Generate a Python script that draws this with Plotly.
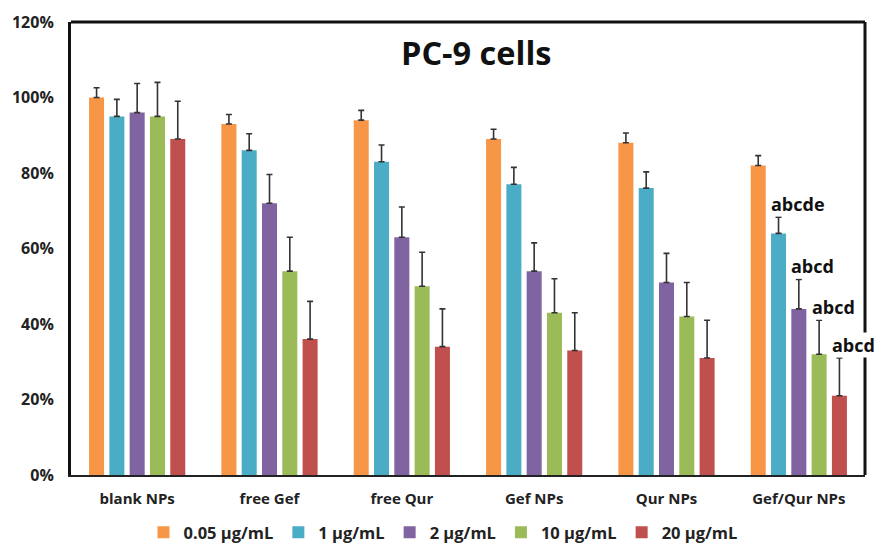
import plotly.graph_objects as go

categories = ["blank NPs", "free Gef", "free Qur", "Gef NPs", "Qur NPs", "Gef/Qur NPs"]
series_names = ["0.05 µg/mL", "1 µg/mL", "2 µg/mL", "10 µg/mL", "20 µg/mL"]
colors = ["#F79646", "#4BACC6", "#8064A2", "#9BBB59", "#C0504D"]

v_005 = [100, 93, 94, 89, 88, 82]
v_1 = [95, 86, 83, 77, 76, 64]
v_2 = [96, 72, 63, 54, 51, 44]
v_10 = [95, 54, 50, 43, 42, 32]
v_20 = [89, 36, 34, 33, 31, 21]

e_005 = [2.6, 2.5, 2.6, 2.6, 2.6, 2.6]
e_1 = [4.5, 4.4, 4.4, 4.5, 4.3, 4.3]
e_2 = [7.7, 7.6, 8.0, 7.5, 7.7, 7.8]
e_10 = [9.0, 9.0, 9.0, 9.0, 9.0, 9.0]
e_20 = [10.0, 10.0, 10.0, 10.0, 10.0, 10.0]

values = [v_005, v_1, v_2, v_10, v_20]
errors = [e_005, e_1, e_2, e_10, e_20]

sig_labels = ["", "abcde", "abcd", "abcd", "abcd"]
sig_category = "Gef/Qur NPs"

yticks = [0, 20, 40, 60, 80, 100, 120]
ytick_text = ["0%", "20%", "40%", "60%", "80%", "100%", "120%"]

W, H = 876, 550
ml, mr, mt, mb = 71, 11, 22, 75
bargap = 0.233
bargroupgap = 0.26

fig = go.Figure()
for name, col, v, e in zip(series_names, colors, values, errors):
    fig.add_trace(go.Bar(
        x=categories, y=v, name=name, marker_color=col, marker_line_width=0,
        error_y=dict(type="data", array=e, arrayminus=[0] * len(e), symmetric=False,
                     color="#333333", thickness=1.6, width=3),
    ))

# significance annotations (positioned in paper coords relative to the bar slots)
plot_w = W - ml - mr
plot_h = H - mt - mb
cat_w = plot_w / len(categories)
slot = cat_w * (1 - bargap) / len(series_names)
bar_w = slot * (1 - bargroupgap)
ci = categories.index(sig_category)
for k, lab in enumerate(sig_labels):
    if not lab:
        continue
    top = values[k][ci] + errors[k][ci]
    left_off = (k - (len(series_names) - 1) / 2) * slot - bar_w / 2
    xp = (ci + 0.5) / len(categories) + (left_off - 1) / plot_w
    fig.add_annotation(
        x=xp, y=top, xref="paper", yref="y", text="<b>%s</b>" % lab,
        showarrow=False, xanchor="left", yanchor="bottom",
        font=dict(family="Open Sans", size=18, color="#111111"),
        bgcolor="white", borderpad=0,
    )

title_center = (476, 52)
fig.add_annotation(
    x=(title_center[0] - ml) / plot_w, y=1 - (title_center[1] - mt) / plot_h,
    xref="paper", yref="paper", text="<b>PC-9 cells</b>",
    showarrow=False, xanchor="center", yanchor="middle",
    font=dict(family="Open Sans", size=32.5, color="#111111"),
)

legend_x = 443
fig.update_layout(
    width=W, height=H,
    margin=dict(l=ml, r=mr, t=mt, b=mb, autoexpand=False),
    barmode="group", bargap=bargap, bargroupgap=bargroupgap,
    plot_bgcolor="white", paper_bgcolor="white",
    font=dict(family="Open Sans", color="#222222"),
    showlegend=True,
    legend=dict(orientation="h", x=legend_x / W, xref="container", xanchor="center",
                y=0, yref="container", yanchor="bottom", borderwidth=0,
                font=dict(family="Open Sans", size=16.5, color="#222222", weight="bold"),
                itemwidth=30, traceorder="normal"),
    xaxis=dict(showline=True, linecolor="#222222", linewidth=2, mirror=False, automargin=False,
               ticks="", tickfont=dict(family="Open Sans", size=15, color="#222222", weight="bold"),
               ticklabelstandoff=9, showgrid=False),
    yaxis=dict(range=[0, 120], tickvals=yticks, ticktext=ytick_text, automargin=False,
               showline=True, linecolor="#111111", linewidth=3, ticks="",
               tickfont=dict(family="Open Sans", size=16, color="#222222", weight="bold"),
               ticklabelstandoff=11, showgrid=False, zeroline=False),
    shapes=[
        dict(type="line", xref="paper", yref="paper", x0=0, x1=1, y0=1, y1=1,
             line=dict(color="#111111", width=3)),
        dict(type="line", xref="paper", yref="paper", x0=1, x1=1, y0=0, y1=1,
             line=dict(color="#111111", width=3), layer="below"),
    ],
)

fig.write_html(
    "out.html",
    config={"displayModeBar": False},
    post_script="document.body.style.margin='0';document.body.style.overflow='hidden';",
)
